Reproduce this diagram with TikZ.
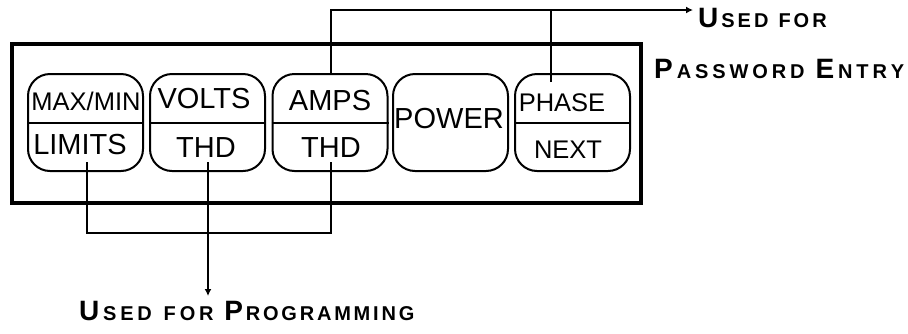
\documentclass[tikz,border=0pt]{standalone}
\usepackage{fontspec}
\setmainfont{Liberation Sans}
\usetikzlibrary{arrows.meta}
\newcommand\BgF{\fontsize{28}{28}\selectfont}
\newcommand\SmF{\fontsize{20}{20}\selectfont}
\def\lsgap{3.5pt}
\def\ls#1{\ifx#1\relax\else#1\kern\lsgap\expandafter\ls\fi}
\newcommand\wsp{\hspace{7pt}}
\tikzset{
  btn/.style={draw, line width=2pt, rounded corners=22pt, minimum width=115pt, minimum height=97pt, inner sep=0pt},
  keytxt/.style={anchor=base, inner sep=0pt, font=\fontsize{29}{29}\selectfont},
  keysm/.style={anchor=base, inner sep=0pt, font=\fontsize{25.5}{25.5}\selectfont},
  lbl/.style={anchor=base west, inner sep=0pt, font=\bfseries},
  conn/.style={line width=2pt},
  arr/.style={-{Latex[length=7pt,width=7pt]}},
}
\begin{document}
\begin{tikzpicture}[x=1pt,y=-1pt]
\useasboundingbox (0,0) rectangle (908,333);
% panel
\node[draw, line width=4pt, minimum width=629pt, minimum height=159pt, inner sep=0pt] (panel) at (326.5,123) {};
% buttons
\node[btn] (b1) at (85.5,122.5) {};
\node[btn] (b2) at (207.5,122.5) {};
\node[btn] (b3) at (330,122.5) {};
\node[btn] (b4) at (450.5,122.5) {};
\node[btn] (b5) at (572.5,122.5) {};
\draw[line width=2pt] (b1.west) -- (b1.east);
\draw[line width=2pt] (b2.west) -- (b2.east);
\draw[line width=2pt] (b3.west) -- (b3.east);
\draw[line width=2pt] (b5.west) -- (b5.east);
% key texts
\node[keysm]  (t1a) at (86,110) {MAX/MIN};
\node[keytxt] (t1b) at (80,154) {LIMITS};
\node[keytxt] (t2a) at (204,108) {VOLTS};
\node[keytxt] (t2b) at (206,157) {THD};
\node[keytxt] (t3a) at (330,110) {AMPS};
\node[keytxt] (t3b) at (331,157) {THD};
\node[keytxt] (t4)  at (449,128) {POWER};
\node[keysm]  (t5a) at (562,111) {PHASE};
\node[keysm]  (t5b) at (568,158) {NEXT};
% labels
\node[lbl] (pw1) at (698,27) {\def\lsgap{3pt}\BgF U\kern\lsgap\SmF\ls SED\relax\wsp\ls FOR\relax};
\node[lbl] (pw2) at (654,78) {\def\lsgap{3.9pt}\BgF P\kern\lsgap\SmF\ls ASSWORD\relax\wsp\BgF E\kern\lsgap\SmF\ls NTRY\relax};
\node[lbl] (prog) at (79,320) {\def\lsgap{3.8pt}\BgF U\kern\lsgap\SmF\ls SED\relax\hspace{8pt}\ls FOR\relax\def\lsgap{2.8pt}\wsp\BgF P\kern\lsgap\SmF\ls ROGRAMMING\relax};
% connector points
\coordinate (toprail) at (0,10);
\coordinate (botrail) at (0,233);
\coordinate (p5) at (551,82);
\coordinate (l1) at (87,162);
\coordinate (l2) at (208,162);
\coordinate (l3) at (331,162);
\coordinate (progtip) at (208,296);
% top connectors
\draw[conn,arr] (b3.north -| l3) |- ([xshift=-5pt]pw1.west |- toprail);
\draw[conn] (p5) -- (p5 |- toprail);
% bottom connectors
\draw[conn] (l1) -- (l1 |- botrail) -- (l3 |- botrail) -- (l3);
\draw[conn,arr] (l2) -- (progtip);
\end{tikzpicture}
\end{document}
